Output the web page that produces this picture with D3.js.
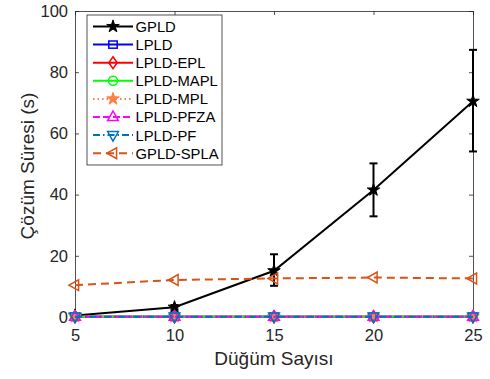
<!DOCTYPE html>
<html><head><meta charset="utf-8">
<script src="https://cdn.jsdelivr.net/npm/d3@7"></script>
<style>body{margin:0;background:#fff}svg{display:block}text{font-family:"Liberation Sans",Arial,sans-serif}</style>
</head><body>
<svg id="c" width="490" height="379"></svg>
<script>
const nodes = [5, 10, 15, 20, 25];
const seriesNames = ["GPLD","LPLD","LPLD-EPL","LPLD-MAPL","LPLD-MPL","LPLD-PFZA","LPLD-PF","GPLD-SPLA"];
const gpld = [0.5, 3.2, 15.1, 41.5, 70.5];
const gpldLow = [0.2, 2.5, 10.2, 32.9, 54.1];
const gpldHigh = [0.8, 3.9, 20.5, 50.2, 87.3];
const lpld = [0.1, 0.1, 0.1, 0.1, 0.1];
const lpldEpl = [0.1, 0.1, 0.1, 0.1, 0.1];
const lpldMapl = [0.1, 0.1, 0.1, 0.1, 0.1];
const lpldMpl = [0.1, 0.1, 0.1, 0.1, 0.1];
const lpldPfza = [0.1, 0.1, 0.1, 0.1, 0.1];
const lpldPf = [0.1, 0.1, 0.1, 0.1, 0.1];
const gpldSpla = [10.4, 12.1, 12.6, 12.9, 12.6];
const xTicks = [5, 10, 15, 20, 25];
const yTicks = [0, 20, 40, 60, 80, 100];

const styles = [
  {v: gpld, c:"#000000", dash:null, m:"star"},
  {v: lpld, c:"#0000ff", dash:null, m:"square"},
  {v: lpldEpl, c:"#ff0000", dash:null, m:"diamond"},
  {v: lpldMapl, c:"#00ff00", dash:null, m:"circle"},
  {v: lpldMpl, c:"#ff8040", dash:"1.5,3", m:"starfill"},
  {v: lpldPfza, c:"#ff00ff", dash:"7,3", m:"triup"},
  {v: lpldPf, c:"#0072bd", dash:"7,3,1.5,3", m:"tridown"},
  {v: gpldSpla, c:"#d95319", dash:"8,5", m:"trileft"},
];

const svg = d3.select("#c");
const L=75, R=473, T=11, B=317;
const x = d3.scaleLinear().domain([5,25]).range([L,R]);
const y = d3.scaleLinear().domain([0,100]).range([B,T]);

const gx = svg.append("g").attr("transform",`translate(0,${B})`)
  .call(d3.axisBottom(x).tickValues(xTicks).tickSize(-4).tickPadding(12));
const gxt = svg.append("g").attr("transform",`translate(0,${T})`)
  .call(d3.axisTop(x).tickValues(xTicks).tickSize(-4).tickFormat(""));
const gy = svg.append("g").attr("transform",`translate(${L},0)`)
  .call(d3.axisLeft(y).tickValues(yTicks).tickSize(-4).tickPadding(7));
const gyr = svg.append("g").attr("transform",`translate(${R},0)`)
  .call(d3.axisRight(y).tickValues(yTicks).tickSize(-4).tickFormat(""));
[gx,gxt,gy,gyr].forEach(g=>{
  g.select(".domain").attr("stroke","#262626").attr("stroke-width",0.8);
  g.selectAll(".tick line").attr("stroke","#262626").attr("stroke-width",0.8);
  g.selectAll("text").attr("fill","#262626").attr("font-size",16.5).attr("font-family","Liberation Sans, Arial, sans-serif");
});

function marker(g, type, cx, cy, col, s){
  s = s||6;
  let p;
  if(type==="star"||type==="starfill"){
    const pts=[];
    for(let i=0;i<10;i++){const r=i%2?s*0.42:s*1.1;const a=-Math.PI/2+i*Math.PI/5;pts.push([cx+r*Math.cos(a),cy+r*Math.sin(a)]);}
    return g.append("polygon").attr("points",pts.map(d=>d.join(",")).join(" ")).attr("fill",col).attr("stroke",col).attr("stroke-width",1);
  }
  if(type==="square") return g.append("rect").attr("x",cx-s*0.7).attr("y",cy-s*0.6).attr("width",s*1.4).attr("height",s*1.2).attr("fill","none").attr("stroke",col).attr("stroke-width",1.5);
  if(type==="circle") return g.append("circle").attr("cx",cx).attr("cy",cy).attr("r",s*0.75).attr("fill","none").attr("stroke",col).attr("stroke-width",1.5);
  if(type==="diamond") p=[[cx,cy-s],[cx+s*0.7,cy],[cx,cy+s],[cx-s*0.7,cy]];
  if(type==="triup") p=[[cx,cy-s],[cx+s*0.9,cy+s*0.6],[cx-s*0.9,cy+s*0.6]];
  if(type==="tridown") p=[[cx,cy+s],[cx+s*0.9,cy-s*0.6],[cx-s*0.9,cy-s*0.6]];
  if(type==="trileft") p=[[cx-s,cy],[cx+s*0.6,cy-s*0.9],[cx+s*0.6,cy+s*0.9]];
  return g.append("polygon").attr("points",p.map(d=>d.join(",")).join(" ")).attr("fill","none").attr("stroke",col).attr("stroke-width",1.5);
}

const line = d3.line().x((d,i)=>x(nodes[i])).y(d=>y(d));
const plot = svg.append("g");
styles.forEach((s,k)=>{
  plot.append("path").datum(s.v).attr("d",line).attr("fill","none")
    .attr("stroke",s.c).attr("stroke-width",2).attr("stroke-dasharray",s.dash);
  s.v.forEach((v,i)=>marker(plot,s.m,x(nodes[i]),y(v),s.c,6));
  if(k===0){
    nodes.forEach((n,i)=>{
      const g=plot.append("g").attr("stroke","#000").attr("stroke-width",2);
      g.append("line").attr("x1",x(n)).attr("x2",x(n)).attr("y1",y(gpldLow[i])).attr("y2",y(gpldHigh[i]));
      g.append("line").attr("x1",x(n)-4).attr("x2",x(n)+4).attr("y1",y(gpldLow[i])).attr("y2",y(gpldLow[i]));
      g.append("line").attr("x1",x(n)-4).attr("x2",x(n)+4).attr("y1",y(gpldHigh[i])).attr("y2",y(gpldHigh[i]));
    });
  }
});

svg.append("text").attr("x",(L+R)/2).attr("y",365).attr("text-anchor","middle")
  .attr("font-size",19).attr("fill","#262626").text("Düğüm Sayısı");
svg.append("text").attr("transform",`translate(34,166) rotate(-90)`).attr("text-anchor","middle")
  .attr("font-size",19).attr("fill","#262626").text("Çözüm Süresi (s)");

const lg = svg.append("g");
lg.append("rect").attr("x",87).attr("y",15).attr("width",135).attr("height",150)
  .attr("fill","#fff").attr("stroke","#262626").attr("stroke-width",0.8);
seriesNames.forEach((nm,i)=>{
  const s=styles[i]; const yy=26.5+i*18.1;
  lg.append("line").attr("x1",93).attr("x2",133).attr("y1",yy).attr("y2",yy)
    .attr("stroke",s.c).attr("stroke-width",2).attr("stroke-dasharray",s.dash);
  marker(lg,s.m,113,yy,s.c,6);
  lg.append("text").attr("x",135.5).attr("y",yy+5.4).attr("font-size",14.8).attr("fill","#000").text(nm);
});
</script>
</body></html>
